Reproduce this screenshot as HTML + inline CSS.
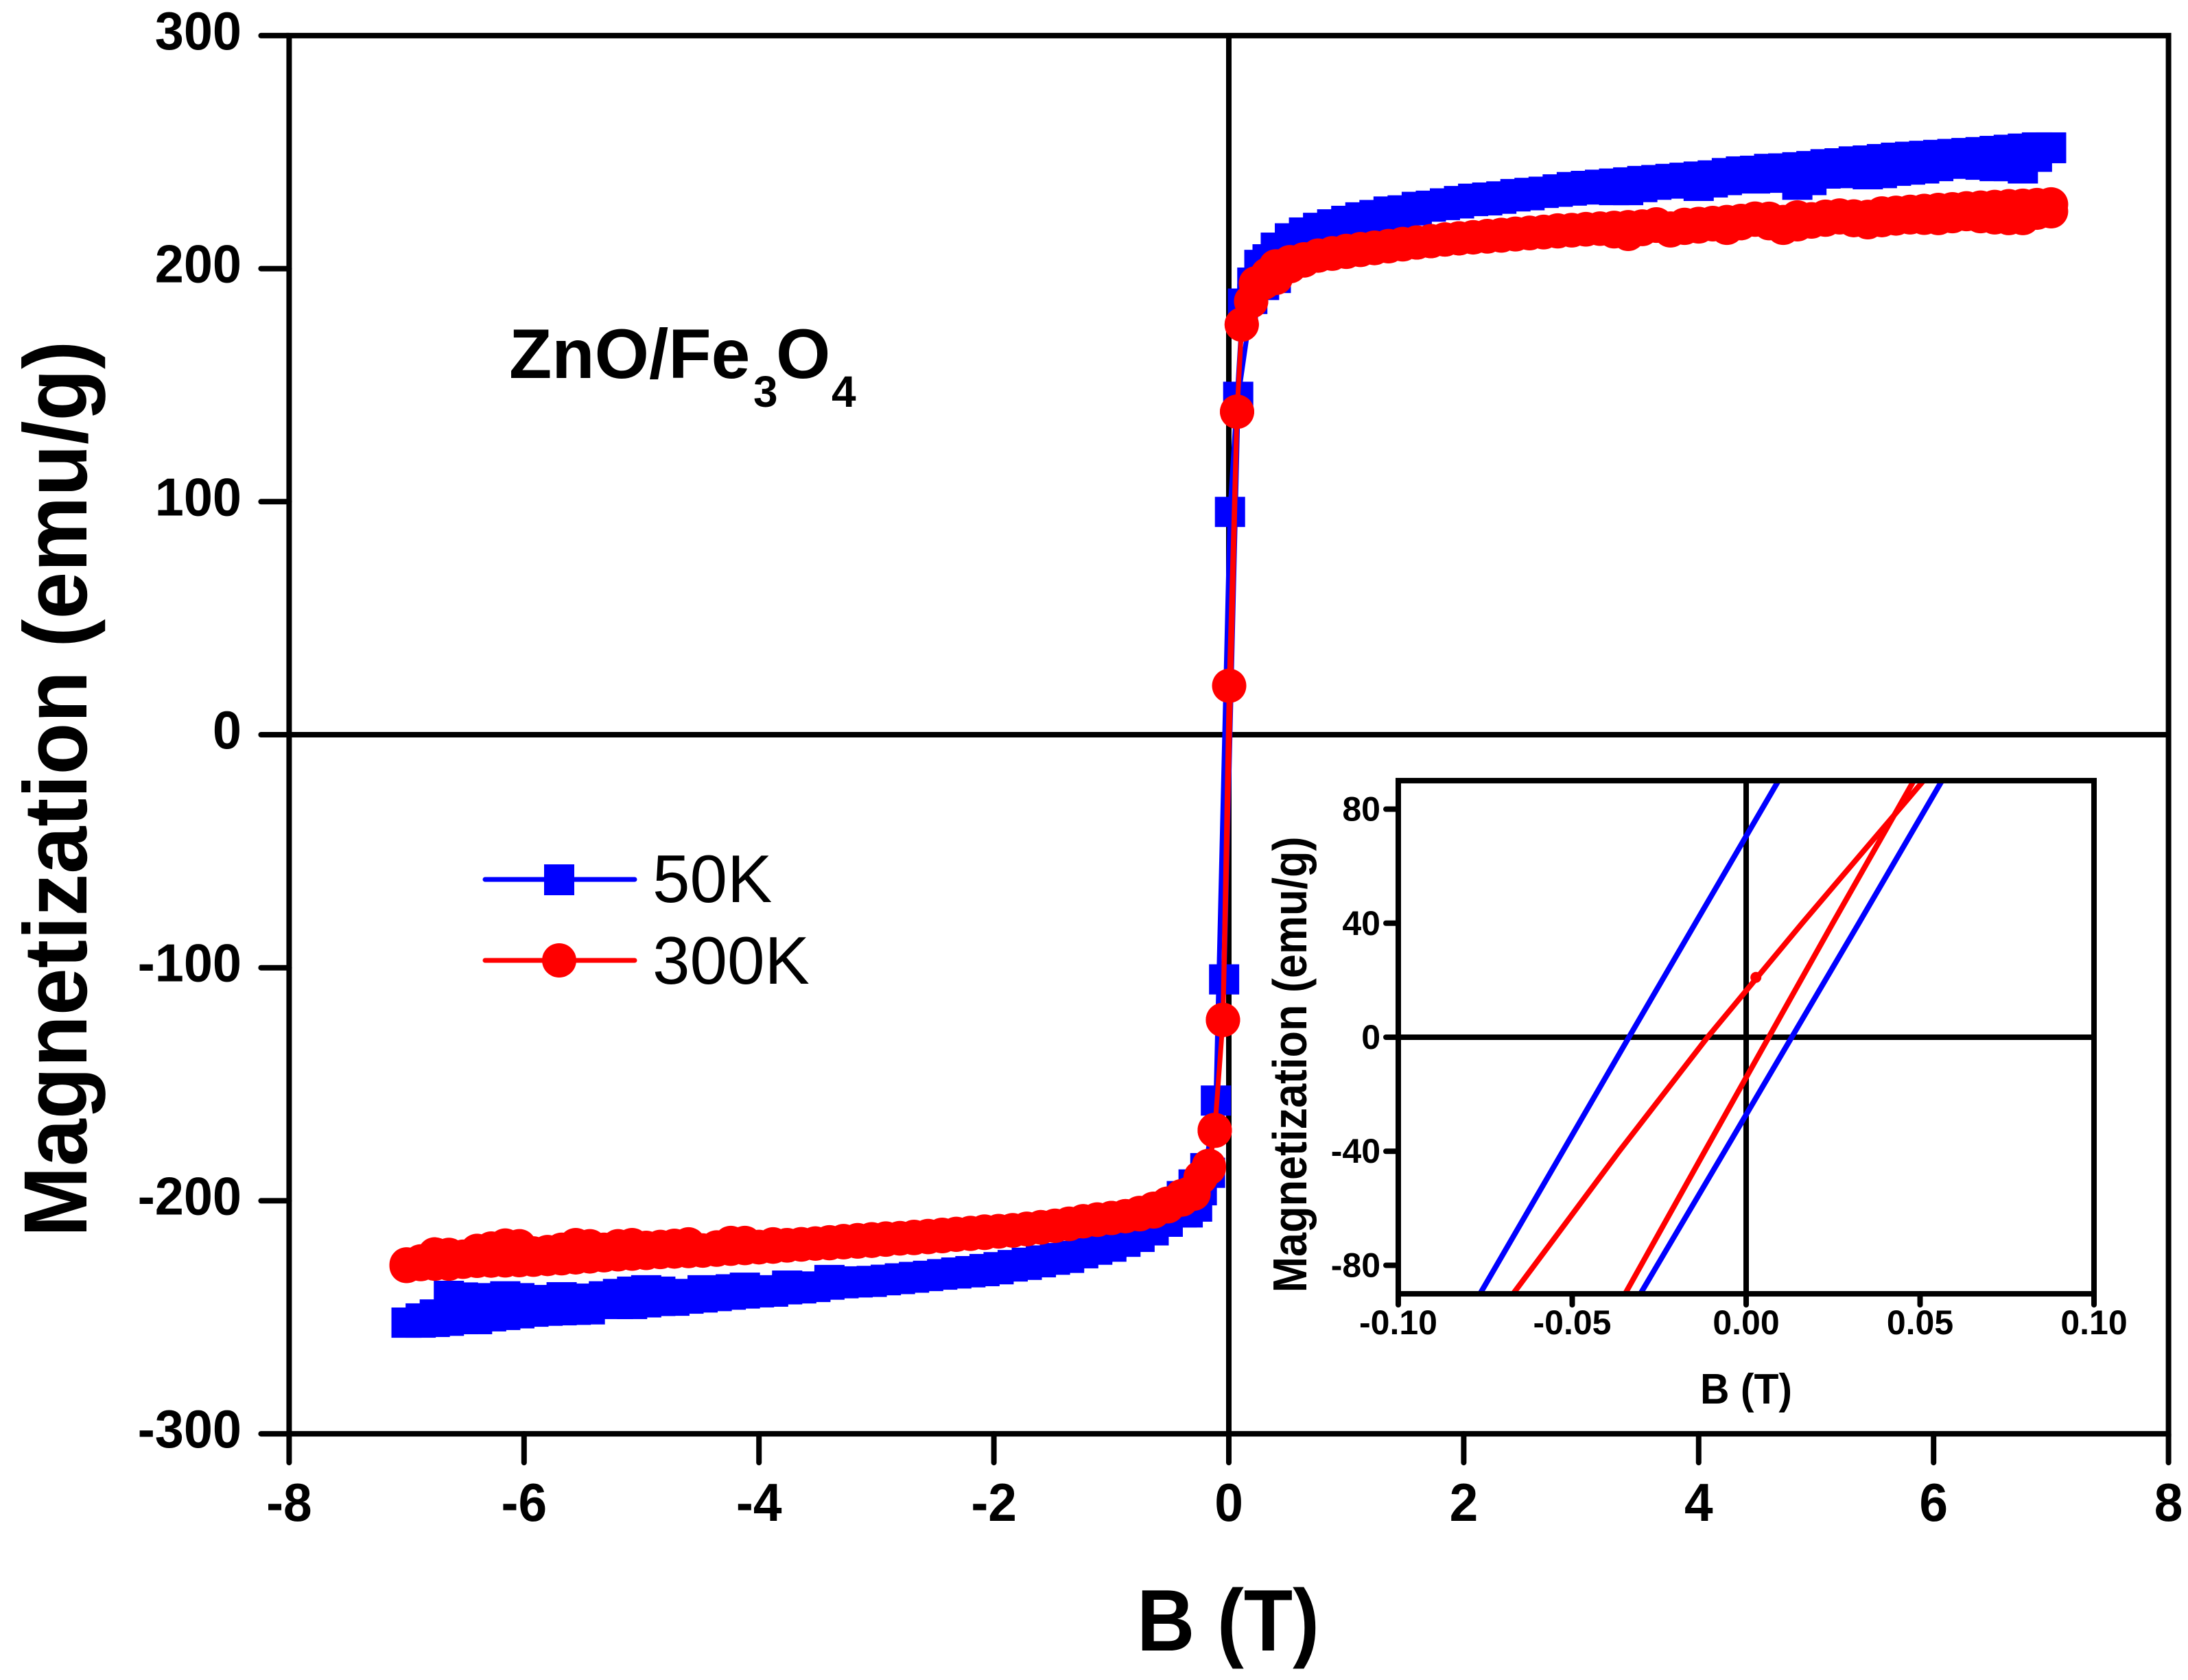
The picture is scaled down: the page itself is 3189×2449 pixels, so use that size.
<!DOCTYPE html>
<html lang="en">
<head>
<meta charset="utf-8">
<title>ZnO/Fe3O4 magnetization hysteresis</title>
<style>
html,body{margin:0;padding:0;background:#fff}
svg{display:block}
text{font-family:"Liberation Sans",Arial,sans-serif;fill:#000}
</style>
</head>
<body>
<svg id="chart" xmlns="http://www.w3.org/2000/svg" width="3189" height="2449" viewBox="0 0 3189 2449">
  <rect x="0" y="0" width="3189" height="2449" fill="#fff"/>
  <g id="main-axes"></g>
  <g id="main-series"></g>
  <g id="inset"></g>
  <text transform="translate(126,1150) rotate(-90) scale(.945,1)" text-anchor="middle" font-size="131" font-weight="700">Magnetization (emu/g)</text>
  <text transform="translate(1790,2406) scale(.92,1)" text-anchor="middle" font-size="127" font-weight="700">B (T)</text>
  <g font-weight="700">
    <text x="742" y="551" font-size="102">ZnO/Fe</text>
    <text x="1098" y="593" font-size="64">3</text>
    <text x="1131" y="551" font-size="102">O</text>
    <text x="1212" y="593" font-size="64">4</text>
  </g>
  <g>
    <g>
      <line x1="707" y1="1282" x2="925" y2="1282" stroke="#0000ff" stroke-width="7" stroke-linecap="round"/>
      <rect x="793" y="1260" width="44" height="45" fill="#0000ff"/>
      <text x="951" y="1315" font-size="98">50K</text>
    </g>
    <g>
      <line x1="707" y1="1400" x2="925" y2="1400" stroke="#ff0000" stroke-width="7" stroke-linecap="round"/>
      <circle cx="815" cy="1400" r="25" fill="#ff0000"/>
      <text x="951" y="1434" font-size="98">300K</text>
    </g>
  </g>
</svg>
<script>
// ---- main chart data (field magnitude in T, moment in emu/g) ----
const fieldGrid = [0.40,0.52,0.64,0.76,0.88,1.00,1.12,1.24,1.36,1.48,1.60,1.72,1.84,1.96,2.08,2.20,2.32,2.44,2.56,2.68,2.80,2.92,3.04,3.16,3.28,3.40,3.52,3.64,3.76,3.88,4.00,4.12,4.24,4.36,4.48,4.60,4.72,4.84,4.96,5.08,5.20,5.32,5.44,5.56,5.68,5.80,5.92,6.04,6.16,6.28,6.40,6.52,6.64,6.76,6.88,7.00];

const m50RightUpper = [209,213,215.5,217.5,219,220.5,222,223,224.5,225,226.5,227,228,229,230,230.5,231,232,232.5,233,234,235,235.5,236,236.5,237,237.6,238,238.5,239,239.5,240,241,241.7,242,242.8,243,243.5,244,244.8,245.2,246,246.4,247,247.6,248,248.4,248.8,249.2,249.6,250,250.5,251,251.5,252,252];
const m50RightLower = [196,203,208,211,214,216,218,220,222,224,225,226.6,227.3,228,229,229.3,230,231,231.5,232.5,233,233.5,234,234,233.7,233.7,235,236,237.6,236.5,235.5,237,238,240.8,238.7,239,240,236,238,240.8,243,241,240.5,241,242,242.5,243,244,245,246.4,244.6,244,244,243,248,251.7];
const m50LeftUpper = [-198,-204,-208,-212,-215,-218,-220,-222.5,-224.5,-225.3,-226.4,-227.5,-228.2,-229.4,-230.2,-230.7,-231.2,-231.7,-232.3,-233,-233.6,-234.1,-234.8,-235,-234.6,-234,-237,-236.8,-236.4,-239,-238.4,-237.3,-238,-240.8,-238.4,-240,-241.5,-239,-238.4,-239,-240,-241,-242.6,-242,-241.4,-244,-242.6,-241.8,-241,-241.8,-242.6,-241.5,-240.8,-248.8,-250.5,-252.3];
const m50LeftLower = [-205,-209,-212.7,-215.5,-217.6,-219.7,-221,-222.5,-223.7,-224.6,-225.6,-226.6,-227.6,-228.5,-229.3,-230.2,-230.8,-231.5,-232.2,-232.7,-233.3,-233.9,-234.4,-235,-235.4,-236,-236.8,-237.6,-238,-238.8,-239.3,-239.8,-240.3,-240.9,-241.5,-242,-242.9,-243,-243.6,-244.3,-244.3,-243.7,-246.6,-246.8,-247,-247.2,-247.6,-248.3,-249,-249.6,-250.8,-250.8,-251.5,-252,-252.3,-252.3];
const field50SteepDown = [0.33,0.26,0.20,0.12,0.01,-0.11,-0.20,-0.30];
const m50SteepDown = [204,201.6,194,185,95.6,-157,-186,-193];
const field50SteepUp = [-0.35,-0.27,-0.23,-0.16,-0.04,0.08,0.20,0.30];
const m50SteepUp = [-205,-202.5,-195.5,-188,-105,145,187,193];

const m300RightUpper = [201,202.8,204,205.6,206.6,207.6,208.4,209,209.7,210.4,211.2,211.8,212.5,213,213.4,213.8,214.2,214.7,215.2,215.6,216,216.4,216.8,217.1,217.5,217.8,218.1,218.4,217.2,218.8,219.2,219.6,220,220.5,221,221.4,220,222,221.2,222.3,222.8,222.4,222.2,223.7,224,224.4,224.8,225.2,225.5,225.9,226.2,226.5,226.8,227,227.3,227.6];
const m300RightLower = [196,201,203.5,205.6,206.4,207.2,208,208.8,209.6,210.6,211.2,211.8,212.5,213,213.5,214,214.5,215,215.4,215.8,216.4,216.6,217,217.2,216,214.9,217,219,216.4,217.5,218.1,219,217.5,219.5,221.5,219.5,217.5,219,220.2,221,222,220.8,219.9,220.8,221.5,222,221.8,221.7,222.5,223.4,222.5,222,221.7,221.7,224,224.6];
const m300LeftUpper = [-198,-201.2,-203.4,-205.2,-206.6,-207.4,-208,-208.8,-209.8,-210.7,-211.3,-212,-212.6,-213,-213.2,-213.8,-214.2,-214.6,-215.1,-215.5,-216,-216.2,-216.5,-216.9,-217.3,-217.8,-218.3,-218.6,-219,-218.7,-219.8,-218.1,-218.1,-220,-221.4,-218.7,-219.3,-219.8,-220.2,-219,-219.5,-221,-219.5,-219,-221,-222,-222.6,-219.5,-219.2,-220.5,-221.5,-224,-223.2,-223,-226,-228];
const m300LeftLower = [-199.5,-202.4,-204.6,-205.8,-206.6,-207.4,-208.2,-208.8,-210,-210.8,-211.5,-212.2,-212.8,-213.2,-213.8,-214.2,-214.6,-215.2,-215.6,-216,-216.2,-216.7,-217.2,-217.5,-217.8,-218.2,-218.4,-218.8,-219.2,-219.7,-220,-220.3,-220.6,-221,-221.3,-221.6,-221.8,-222,-222.4,-222.7,-223,-223.4,-223.9,-224.3,-224.7,-225,-225.3,-225.5,-225.6,-225.7,-225.8,-226.2,-227,-227,-227.2,-227.3];
const field300SteepDown = [0.33,0.23,0.19,0.11,0.07,0.003,-0.05,-0.12,-0.17,-0.24,-0.34];
const m300SteepDown = [197.5,193.7,186,176,138.6,21,-122.4,-169.6,-185,-190,-197];
const field300SteepUp = [-0.30,-0.24,-0.17,-0.12,-0.05,0.07,0.11,0.19,0.30];
const m300SteepUp = [-197,-190,-186,-170,-122.4,138.6,176,186,194];

const mainXTicks = [-8,-6,-4,-2,0,2,4,6,8];
const mainYTicks = [-300,-200,-100,0,100,200,300];

// ---- inset data ----
const insetMoments = [-90,-40,0,40,90];
const inset50Down = [-0.0765,-0.0527,-0.0337,-0.0146,0.0093];
const inset50Up = [-0.0304,-0.0062,0.0131,0.0324,0.0563];
const inset300Down = [-0.067,-0.0365,-0.0111,0.0161,0.051];
const inset300Up = [-0.0348,-0.0119,0.0065,0.0249,0.0482];
const insetMarkerField = [0.0028];
const insetMarkerMoment = [21];
const insetXTicks = [-0.10,-0.05,0.00,0.05,0.10];
const insetYTicks = [-80,-40,0,40,80];

const NS = 'http://www.w3.org/2000/svg';
const BLUE = '#0000ff', RED = '#ff0000';

// axis functions
const mainX = v => 1791 + v * 171.2;
const mainY = v => 1071 - v * 3.397;
const insetX = v => 2545 + v * 5070;
const insetY = v => 1512 - v * 4.156;

function make(tag, attrs, parent) {
  const el = document.createElementNS(NS, tag);
  for (const k in attrs) el.setAttribute(k, attrs[k]);
  parent.appendChild(el);
  return el;
}

function label(parent, str, x, y, size, sx, anchor) {
  const el = make('text', {
    transform: 'translate(' + x + ',' + y + ') scale(' + sx + ',1)',
    'text-anchor': anchor,
    'font-size': size,
    'font-weight': '700'
  }, parent);
  el.textContent = str;
  return el;
}

// ---- main axes ----
const mainAxes = document.getElementById('main-axes');
const frame = make('rect', {x: mainX(-8), y: mainY(300), width: mainX(8) - mainX(-8), height: mainY(-300) - mainY(300), fill: 'none', stroke: '#000', 'stroke-width': 8}, mainAxes);



const zeroH = make('line', {x1: mainX(-8), y1: mainY(0), x2: mainX(8), y2: mainY(0), stroke: '#000', 'stroke-width': 8}, mainAxes);


const zeroV = make('line', {x1: mainX(0), y1: mainY(300), x2: mainX(0), y2: mainY(-300), stroke: '#000', 'stroke-width': 8}, mainAxes);



mainXTicks.forEach(v => {
  const t = make('line', {x1: mainX(v), y1: mainY(-300), x2: mainX(v), y2: mainY(-300) + 42, stroke: '#000', 'stroke-width': 8, 'stroke-linecap': 'round'}, mainAxes);
  
  
  const l = label(mainAxes, String(v), mainX(v), 2217, 78, 0.96, 'middle');
  
  
});
mainYTicks.forEach(v => {
  const t = make('line', {x1: mainX(-8) - 41, y1: mainY(v), x2: mainX(-8), y2: mainY(v), stroke: '#000', 'stroke-width': 8, 'stroke-linecap': 'round'}, mainAxes);
  
  
  const l = label(mainAxes, String(v), 352, mainY(v) + 20, 78, 0.97, 'end');
  
  
});

// ---- main series ----
const mainSeries = document.getElementById('main-series');

function sweep(rightUpper, rightLower, leftUpper, leftLower, sdX, sdY, suX, suY) {
  const pts = [];
  for (let i = fieldGrid.length - 1; i >= 0; i--) pts.push([fieldGrid[i], rightUpper[i]]);
  sdX.forEach((x, i) => pts.push([x, sdY[i]]));
  for (let i = 0; i < fieldGrid.length; i++) pts.push([-fieldGrid[i], leftUpper[i]]);
  for (let i = fieldGrid.length - 1; i >= 0; i--) pts.push([-fieldGrid[i], leftLower[i]]);
  suX.forEach((x, i) => pts.push([x, suY[i]]));
  for (let i = 0; i < fieldGrid.length; i++) pts.push([fieldGrid[i], rightLower[i]]);
  return pts;
}

const points50 = sweep(m50RightUpper, m50RightLower, m50LeftUpper, m50LeftLower, field50SteepDown, m50SteepDown, field50SteepUp, m50SteepUp);
const points300 = sweep(m300RightUpper, m300RightLower, m300LeftUpper, m300LeftLower, field300SteepDown, m300SteepDown, field300SteepUp, m300SteepUp);

const line50 = make('polyline', {points: points50.map(p => mainX(p[0]) + ',' + mainY(p[1])).join(' '), fill: 'none', stroke: BLUE, 'stroke-width': 7, 'stroke-linejoin': 'round'}, mainSeries);


points50.forEach(p => {
  const m = make('rect', {x: mainX(p[0]) - 22, y: mainY(p[1]) - 22, width: 44, height: 44, fill: BLUE}, mainSeries);
  
  
});

const line300 = make('polyline', {points: points300.map(p => mainX(p[0]) + ',' + mainY(p[1])).join(' '), fill: 'none', stroke: RED, 'stroke-width': 7, 'stroke-linejoin': 'round'}, mainSeries);


points300.forEach(p => {
  const m = make('circle', {cx: mainX(p[0]), cy: mainY(p[1]), r: 25, fill: RED}, mainSeries);
  
  
});

// ---- inset ----
const inset = document.getElementById('inset');
const clip = make('clipPath', {id: 'inset-clip'}, inset);
make('rect', {x: insetX(-0.1), y: insetY(90), width: insetX(0.1) - insetX(-0.1), height: insetY(-90) - insetY(90)}, clip);

const izh = make('line', {x1: insetX(-0.1), y1: insetY(0), x2: insetX(0.1), y2: insetY(0), stroke: '#000', 'stroke-width': 8}, inset);


const izv = make('line', {x1: insetX(0), y1: insetY(90), x2: insetX(0), y2: insetY(-90), stroke: '#000', 'stroke-width': 8}, inset);



const insetBlueDown = make('polyline', {points: inset50Down.map((x, i) => insetX(x) + ',' + insetY(insetMoments[i])).join(' '), fill: 'none', stroke: BLUE, 'stroke-width': 8, 'clip-path': 'url(#inset-clip)'}, inset);


const insetBlueUp = make('polyline', {points: inset50Up.map((x, i) => insetX(x) + ',' + insetY(insetMoments[i])).join(' '), fill: 'none', stroke: BLUE, 'stroke-width': 8, 'clip-path': 'url(#inset-clip)'}, inset);


const insetRedDown = make('polyline', {points: inset300Down.map((x, i) => insetX(x) + ',' + insetY(insetMoments[i])).join(' '), fill: 'none', stroke: RED, 'stroke-width': 8, 'stroke-linejoin': 'round', 'clip-path': 'url(#inset-clip)'}, inset);


const insetRedUp = make('polyline', {points: inset300Up.map((x, i) => insetX(x) + ',' + insetY(insetMoments[i])).join(' '), fill: 'none', stroke: RED, 'stroke-width': 8, 'clip-path': 'url(#inset-clip)'}, inset);


insetMarkerField.forEach((x, i) => {
  const c = make('circle', {cx: insetX(x), cy: insetY(insetMarkerMoment[i]), r: 8, fill: RED}, inset);
  
  
});

const insetFrame = make('rect', {x: insetX(-0.1), y: insetY(90), width: insetX(0.1) - insetX(-0.1), height: insetY(-90) - insetY(90), fill: 'none', stroke: '#000', 'stroke-width': 8}, inset);



insetXTicks.forEach(v => {
  const t = make('line', {x1: insetX(v), y1: insetY(-90), x2: insetX(v), y2: insetY(-90) + 16, stroke: '#000', 'stroke-width': 8, 'stroke-linecap': 'round'}, inset);
  
  
  const l = label(inset, v.toFixed(2), insetX(v), 1945, 50, 1, 'middle');
  
  
});
insetYTicks.forEach(v => {
  const t = make('line', {x1: insetX(-0.1) - 18, y1: insetY(v), x2: insetX(-0.1), y2: insetY(v), stroke: '#000', 'stroke-width': 8, 'stroke-linecap': 'round'}, inset);
  
  
  const l = label(inset, String(v), 2012, insetY(v) + 17, 50, 1, 'end');
  
  
});

const insetYTitle = make('text', {transform: 'translate(1904,1552) rotate(-90) scale(.9,1)', 'text-anchor': 'middle', 'font-size': 70, 'font-weight': '700'}, inset);
insetYTitle.textContent = 'Magnetization (emu/g)';


const insetXTitle = make('text', {transform: 'translate(2545,2046) scale(.95,1)', 'text-anchor': 'middle', 'font-size': 62, 'font-weight': '700'}, inset);
insetXTitle.textContent = 'B (T)';


</script>
</body>
</html>
